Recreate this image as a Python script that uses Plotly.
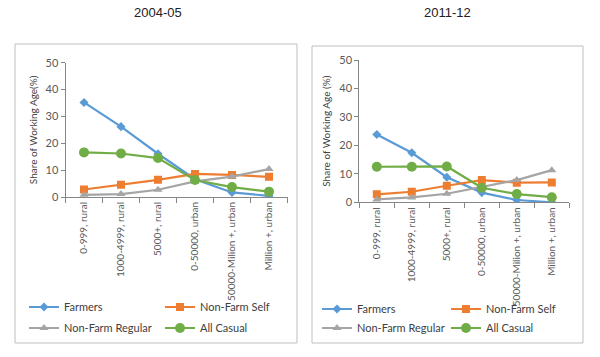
import plotly.graph_objects as go

categories = ["0-999, rural", "1000-4999, rural", "5000+, rural", "0-50000, urban",
              "50000-Milion +, urban", "Million +, urban"]
series_names = ["Farmers", "Non-Farm Self", "Non-Farm Regular", "All Casual"]

farmers_0405 = [35.2, 26.2, 16.1, 6.6, 1.7, 0.4]
nonfarm_self_0405 = [2.8, 4.6, 6.4, 8.6, 8.2, 7.5]
nonfarm_regular_0405 = [0.8, 1.1, 2.7, 5.8, 7.6, 10.4]
all_casual_0405 = [16.6, 16.2, 14.5, 6.3, 3.7, 2.0]

farmers_1112 = [23.8, 17.4, 8.8, 3.4, 0.8, 0.0]
nonfarm_self_1112 = [2.8, 3.7, 5.8, 7.8, 6.9, 7.0]
nonfarm_regular_1112 = [1.0, 1.7, 3.0, 5.5, 7.8, 11.3]
all_casual_1112 = [12.5, 12.5, 12.6, 5.1, 2.9, 1.8]

panel_titles = ["2004-05", "2011-12"]
y_titles = ["Share of Working Age(%)", "Share of Working Age (%)"]
y_ticks = [0, 10, 20, 30, 40, 50]

colors = ["#5B9BD5", "#ED7D31", "#A5A5A5", "#70AD47"]
symbols = ["diamond", "square", "triangle-up", "circle"]
msizes = [7, 8, 8, 10]

W, H = 600, 357
FONT = "Lato"

def px(x):
    return x / W

def py(y):
    return (H - y) / H

fig = go.Figure()

panels = [
    dict(data=[farmers_0405, nonfarm_self_0405, nonfarm_regular_0405, all_casual_0405],
         xd=[px(65.5), px(287.5)], yd=[py(197), py(62.7)], xa="x", ya="y",
         leg_pos=[(24, 307), (160, 307), (24, 328), (160, 328)]),
    dict(data=[farmers_1112, nonfarm_self_1112, nonfarm_regular_1112, all_casual_1112],
         xd=[px(359.3), px(569.3)], yd=[py(202.3), py(60)], xa="x2", ya="y2",
         leg_pos=[(317, 309), (446, 309), (317, 328), (446, 328)]),
]

legend_layouts = {}
li = 0
for p_i, p in enumerate(panels):
    for s_i, vals in enumerate(p["data"]):
        li += 1
        lname = "legend" if li == 1 else f"legend{li}"
        fig.add_trace(go.Scatter(
            x=categories, y=vals, name=series_names[s_i], mode="lines+markers",
            xaxis=p["xa"], yaxis=p["ya"], legend=lname,
            line=dict(color=colors[s_i], width=2.2),
            marker=dict(symbol=symbols[s_i], size=msizes[s_i], color=colors[s_i]),
        ))
        lx, ly = p["leg_pos"][s_i]
        legend_layouts[lname] = dict(
            x=px(lx), y=py(ly), xanchor="left", yanchor="middle",
            bgcolor="rgba(0,0,0,0)", borderwidth=0,
            font=dict(family=FONT, size=11, color="#404040"),
        )

axis_common = dict(showline=True, linecolor="#868686", linewidth=1, showgrid=False,
                   zeroline=False, ticks="outside", ticklen=4, tickcolor="#868686",
                   automargin=False,
                   tickfont=dict(family=FONT, size=11, color="#595959"))

for p_i, p in enumerate(panels):
    sfx = "" if p_i == 0 else "2"
    fig.update_layout(**{
        f"xaxis{sfx}": dict(axis_common, domain=p["xd"], anchor=p["ya"],
                            type="category", tickangle=-90, tickson="boundaries",
                            ticklen=5, range=[-0.5, 5.5],
                            tickfont=dict(family=FONT, size=10, color="#595959")),
        f"yaxis{sfx}": dict(axis_common, domain=p["yd"], anchor=p["xa"],
                            range=[0, 50], tickvals=y_ticks,
                            title=dict(text=y_titles[p_i], standoff=6,
                                       font=dict(family=FONT, size=10, color="#404040"))),
    })

fig.update_layout(**legend_layouts)

shapes = [
    dict(type="rect", xref="paper", yref="paper", x0=px(15), x1=px(297), y0=py(343), y1=py(44),
         line=dict(color="#BFBFBF", width=1)),
    dict(type="rect", xref="paper", yref="paper", x0=px(312), x1=px(583), y0=py(343), y1=py(46),
         line=dict(color="#BFBFBF", width=1)),
]
annotations = [
    dict(text=panel_titles[0], x=px(158), y=py(13), xref="paper", yref="paper",
         xanchor="center", yanchor="middle",
         showarrow=False, font=dict(family="Liberation Sans", size=13, color="#222")),
    dict(text=panel_titles[1], x=px(447), y=py(13), xref="paper", yref="paper",
         xanchor="center", yanchor="middle",
         showarrow=False, font=dict(family="Liberation Sans", size=13, color="#222")),
]

fig.update_layout(width=W, height=H, margin=dict(l=0, r=0, t=0, b=0, autoexpand=False),
                  paper_bgcolor="white", plot_bgcolor="white",
                  shapes=shapes, annotations=annotations, showlegend=True)

fig.write_html("out.html", config={"displayModeBar": False},
               post_script="document.body.style.margin='0';document.body.style.overflow='hidden';")
